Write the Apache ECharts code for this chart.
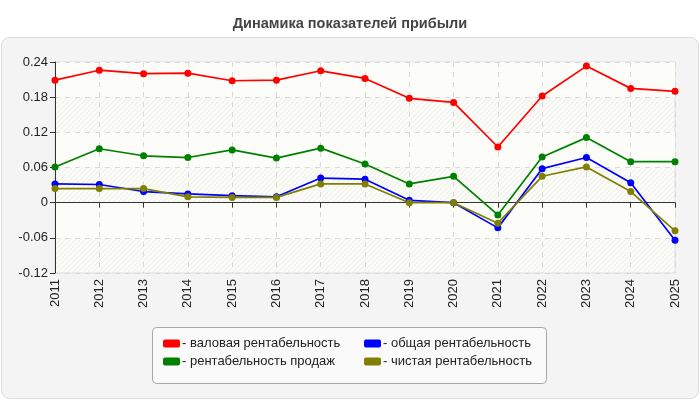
<!DOCTYPE html>
<html>
<head>
<meta charset="utf-8">
<script src="https://cdn.jsdelivr.net/npm/echarts@6/dist/echarts.min.js"></script>
<style>
  html, body { margin: 0; padding: 0; background: #fff; }
  #main { width: 700px; height: 400px; }
</style>
</head>
<body>
<div id="main"></div>
<script>
var years = ["2011", "2012", "2013", "2014", "2015", "2016", "2017", "2018", "2019", "2020", "2021", "2022", "2023", "2024", "2025"];
var gross = [0.209, 0.226, 0.220, 0.221, 0.208, 0.209, 0.225, 0.212, 0.178, 0.171, 0.095, 0.182, 0.233, 0.195, 0.190];
var sales = [0.061, 0.092, 0.080, 0.077, 0.090, 0.076, 0.093, 0.066, 0.032, 0.045, -0.021, 0.078, 0.111, 0.070, 0.070];
var total = [0.032, 0.031, 0.019, 0.015, 0.012, 0.010, 0.042, 0.040, 0.004, 0.000, -0.043, 0.058, 0.077, 0.034, -0.064];
var net = [0.024, 0.024, 0.024, 0.010, 0.009, 0.009, 0.032, 0.032, 0.000, 0.000, -0.035, 0.045, 0.061, 0.019, -0.048];
var names = ["валовая рентабельность", "рентабельность продаж", "общая рентабельность", "чистая рентабельность"];
var colors = ["#ff0000", "#008000", "#0000ff", "#808000"];

// hatched background for the plot area
function hatch() {
  var c = document.createElement("canvas");
  c.width = 5; c.height = 5;
  var ctx = c.getContext("2d");
  ctx.fillStyle = "#fbfbf7";
  ctx.fillRect(0, 0, 5, 5);
  ctx.strokeStyle = "rgba(0,0,0,0.055)";
  ctx.lineWidth = 1;
  ctx.beginPath();
  ctx.moveTo(0, 5); ctx.lineTo(5, 0);
  ctx.moveTo(-2.5, 2.5); ctx.lineTo(2.5, -2.5);
  ctx.moveTo(2.5, 7.5); ctx.lineTo(7.5, 2.5);
  ctx.stroke();
  return c;
}

var chart = echarts.init(document.getElementById("main"));
var font = "Liberation Sans, Arial, sans-serif";

function line(i, data) {
  return {
    name: names[i],
    type: "line",
    data: data,
    symbol: "circle",
    symbolSize: 7,
    lineStyle: { width: 1.7, color: colors[i] },
    itemStyle: { color: colors[i] },
    animation: false
  };
}

function legend(items, left) {
  return {
    data: items,
    orient: "vertical", left: left, top: 337, padding: 0,
    itemWidth: 17, itemHeight: 8, itemGap: 5,
    icon: "roundRect",
    formatter: function (n) { return "- " + n; },
    textStyle: { fontSize: 13, color: "#222", padding: [0, 0, 0, -3] },
    selectedMode: false
  };
}

var option = {
  backgroundColor: "#fff",
  textStyle: { fontFamily: font },
  title: {
    text: "Динамика показателей прибыли",
    left: "center",
    top: 11,
    textStyle: { fontSize: 14.5, fontWeight: "bold", color: "#444", fontFamily: font }
  },
  graphic: [
    {
      type: "rect", left: 1, top: 37, z: -10,
      shape: { width: 697, height: 361, r: 8 },
      style: { fill: "#f4f4f4", stroke: "#dcdcdc", lineWidth: 1 }
    },
    {
      type: "rect", left: 152, top: 327, z: -5,
      shape: { width: 394, height: 56, r: 4 },
      style: { fill: "#fafafa", stroke: "#a8a8a8", lineWidth: 1 }
    }
  ],
  legend: [
    legend([names[0], names[1]], 163),
    legend([names[2], names[3]], 364)
  ],
  grid: {
    left: 55, right: 25, top: 62, bottom: 127,
    show: true,
    backgroundColor: { image: hatch(), repeat: "repeat" },
    borderColor: "#dddddd",
    borderWidth: 1
  },
  xAxis: {
    type: "category",
    data: years,
    boundaryGap: false,
    axisLine: { lineStyle: { color: "#333", width: 1 } },
    axisTick: { length: 5, lineStyle: { color: "#333" } },
    axisLabel: { rotate: 90, fontSize: 13, color: "#222", margin: 6 },
    splitLine: { show: true, lineStyle: { color: "#dadada", type: [5, 5] } }
  },
  yAxis: {
    type: "value",
    min: -0.12, max: 0.24, interval: 0.06,
    axisLine: { show: true, lineStyle: { color: "#333", width: 1 } },
    axisTick: { show: true, length: 5, lineStyle: { color: "#333" } },
    axisLabel: {
      fontSize: 13, color: "#222", margin: 7,
      formatter: function (v) { return String(Math.round(v * 100) / 100); }
    },
    splitLine: { show: true, lineStyle: { color: "#dadada", type: [5, 5] } },
    splitArea: { show: true, areaStyle: { color: ["rgba(0,0,0,0)", "#fcfcf8"] } }
  },
  series: [
    line(0, gross),
    line(1, sales),
    line(2, total),
    line(3, net)
  ]
};

chart.setOption(option);
</script>
</body>
</html>
